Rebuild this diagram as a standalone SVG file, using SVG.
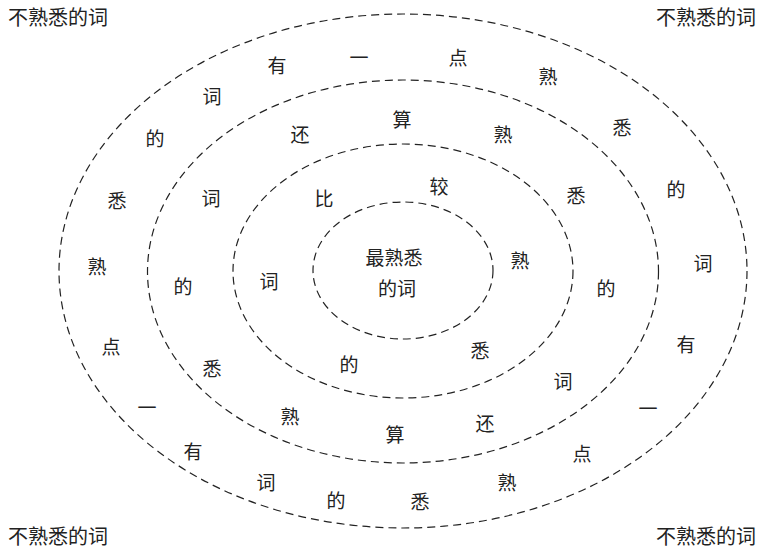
<svg xmlns="http://www.w3.org/2000/svg" width="761" height="551" viewBox="0 0 761 551">
<style>
.ring{fill:none;stroke:#222;stroke-width:1.2;stroke-dasharray:8 5}
text{font-family:"Noto Sans CJK SC","Noto Sans CJK JP",sans-serif;font-size:19px;fill:#222;text-anchor:middle;dominant-baseline:central}
.corner{font-size:20px}
</style>
<rect width="761" height="551" fill="#fff"/>
<g id="rings">
<ellipse class="ring" cx="403" cy="271" rx="344" ry="257"/>
<ellipse class="ring" cx="403" cy="271.5" rx="255.5" ry="191.5"/>
<ellipse class="ring" cx="403" cy="271" rx="170" ry="127"/>
<ellipse class="ring" cx="403" cy="270.5" rx="90" ry="68.5"/>
</g>
<g id="corners">
<text class="corner" x="58" y="16">不熟悉的词</text>
<text class="corner" x="706" y="16">不熟悉的词</text>
<text class="corner" x="58" y="535">不熟悉的词</text>
<text class="corner" x="706" y="535">不熟悉的词</text>
</g>
<g id="center">
<text x="394" y="256">最熟悉</text>
<text x="397" y="287">的词</text>
</g>
<g id="ring3">
<text x="324" y="197">比</text>
<text x="439" y="185">较</text>
<text x="520" y="259">熟</text>
<text x="480" y="349">悉</text>
<text x="349" y="363">的</text>
<text x="269" y="280">词</text>
</g>
<g id="ring2">
<text x="300" y="133">还</text>
<text x="402" y="118">算</text>
<text x="503" y="133">熟</text>
<text x="576" y="194">悉</text>
<text x="606" y="287">的</text>
<text x="563" y="380">词</text>
<text x="485" y="422">还</text>
<text x="395" y="433">算</text>
<text x="290" y="415">熟</text>
<text x="212" y="367">悉</text>
<text x="183" y="285">的</text>
<text x="211" y="197">词</text>
</g>
<g id="ring1">
<text x="277" y="64">有</text>
<text x="359" y="56">一</text>
<text x="458" y="56">点</text>
<text x="548" y="75">熟</text>
<text x="622" y="126">悉</text>
<text x="676" y="188">的</text>
<text x="703" y="262">词</text>
<text x="686" y="343">有</text>
<text x="648" y="407">一</text>
<text x="582" y="452">点</text>
<text x="507" y="481">熟</text>
<text x="420" y="500">悉</text>
<text x="336" y="499">的</text>
<text x="266" y="481">词</text>
<text x="193" y="450">有</text>
<text x="147" y="406">一</text>
<text x="111" y="345">点</text>
<text x="97" y="265">熟</text>
<text x="117" y="199">悉</text>
<text x="155" y="137">的</text>
<text x="212" y="95">词</text>
</g>
</svg>
